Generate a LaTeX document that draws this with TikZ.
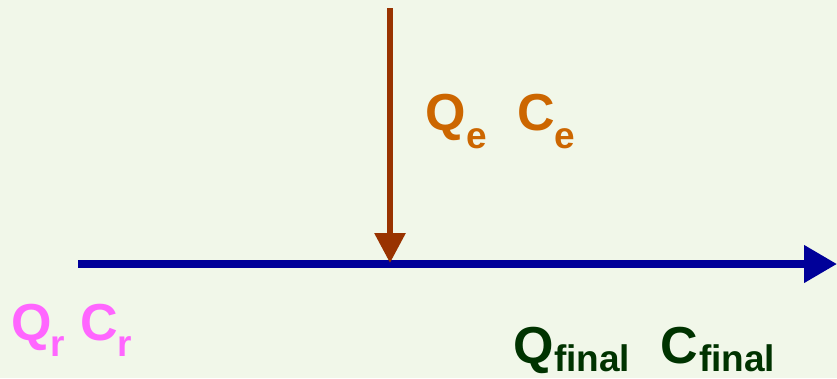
\documentclass[tikz,border=0pt]{standalone}
\usepackage{fontspec}
\setmainfont{Liberation Sans}
\usetikzlibrary{arrows.meta}
\definecolor{bg}{HTML}{F1F7E9}
\definecolor{flowblue}{HTML}{000099}
\definecolor{flowbrown}{HTML}{993300}
\definecolor{lblorange}{HTML}{CC6600}
\definecolor{lblpink}{HTML}{FF66FF}
\definecolor{lblgreen}{HTML}{003300}
\tikzset{
  mainletter/.style={inner sep=0pt, anchor=base west, font=\fontsize{52}{52}\selectfont\bfseries},
  subletter/.style={inner sep=0pt, anchor=base west, font=\fontsize{37}{37}\selectfont\bfseries},
  mainflow/.style={draw=flowblue, line width=7.5pt, -{Triangle[length=33pt,width=36pt]}},
  sideflow/.style={draw=flowbrown, line width=6pt, -{Triangle[length=30pt,width=30pt]}}
}
\begin{document}
\begin{tikzpicture}[x=1pt,y=-1pt]
\fill[bg] (0,0) rectangle (837,378);
\useasboundingbox (0,0) rectangle (837,378);
\coordinate (hs) at (78,264);
\coordinate (he) at (837,264);
\coordinate (vs) at (390,8);
\coordinate (vt) at (390,263);
\draw[mainflow] (hs) -- (he);
\draw[sideflow] (vs) -- (vt);
% Qe Ce
\node[mainletter, text=lblorange] (qe) at (425,130) {Q};
\node[subletter, text=lblorange] (qes) at (466,148) {e};
\node[mainletter, text=lblorange] (ce) at (517,130) {C};
\node[subletter, text=lblorange] (ces) at (554,148) {e};
% Qr Cr
\node[mainletter, text=lblpink] (qr) at (11,340) {Q};
\node[subletter, text=lblpink] (qrs) at (50,356) {r};
\node[mainletter, text=lblpink] (cr) at (80,340) {C};
\node[subletter, text=lblpink] (crs) at (117,356) {r};
% Qfinal Cfinal
\node[mainletter, text=lblgreen] (qf) at (513,363) {Q};
\node[subletter, text=lblgreen] (qfs) at (554,371) {final};
\node[mainletter, text=lblgreen] (cf) at (660,363) {C};
\node[subletter, text=lblgreen] (cfs) at (699,371) {final};
\end{tikzpicture}
\end{document}
